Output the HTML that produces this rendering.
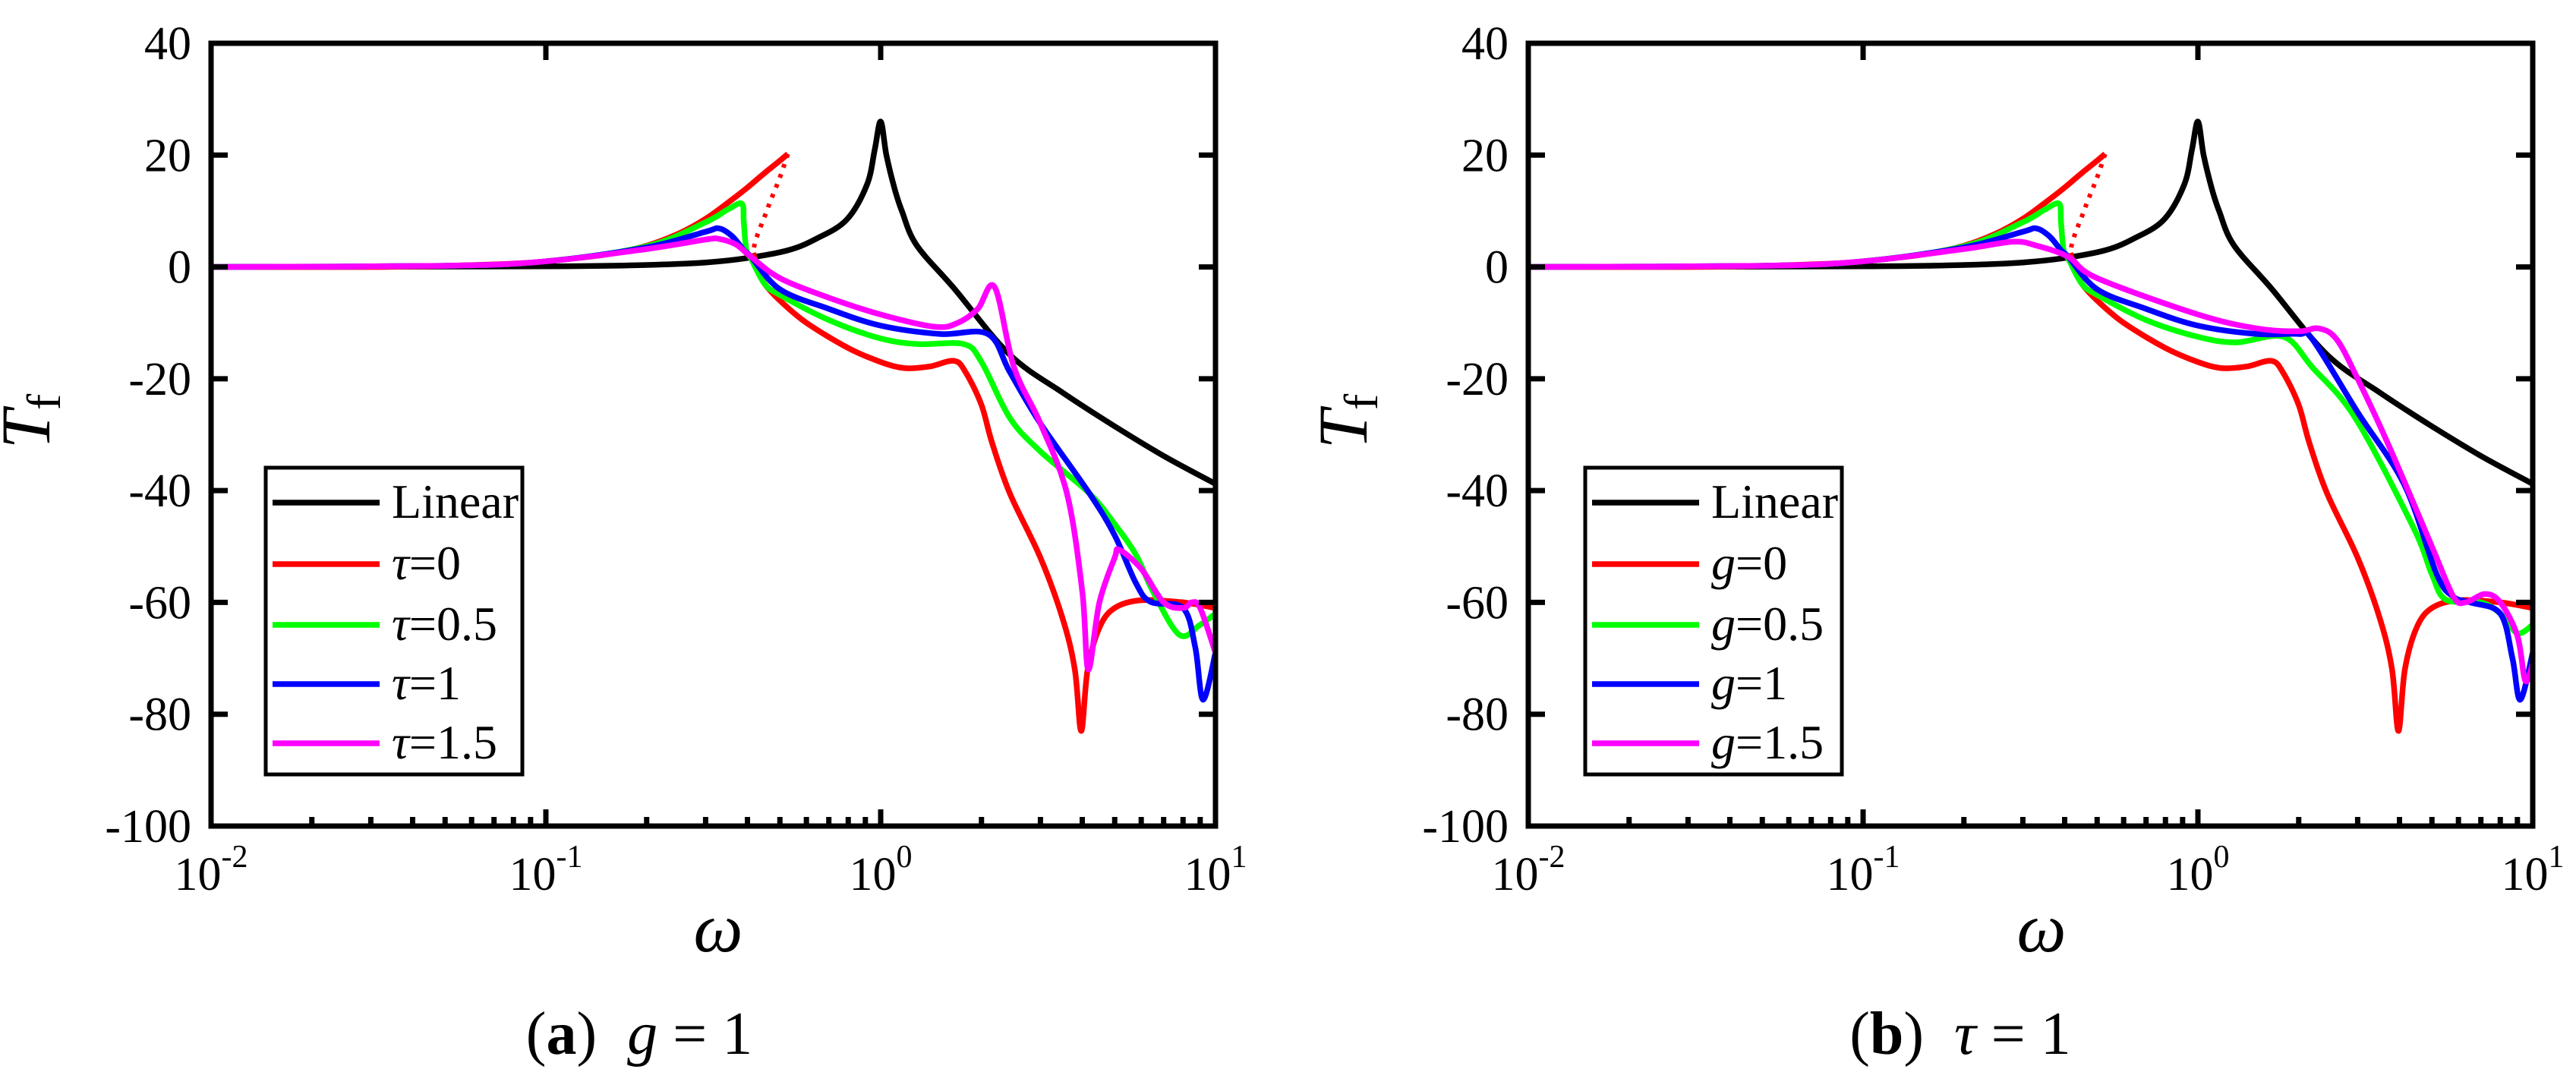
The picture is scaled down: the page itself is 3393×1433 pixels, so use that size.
<!DOCTYPE html>
<html><head><meta charset="utf-8"><style>
html,body{margin:0;padding:0;background:#fff;}
svg{display:block;font-family:"Liberation Serif","DejaVu Serif",serif;}
svg text{font-family:"Liberation Serif","DejaVu Serif",serif;fill:#000;}
</style></head><body>
<svg id="fig" width="3393" height="1433" viewBox="0 0 3393 1433" xmlns="http://www.w3.org/2000/svg" font-family="Liberation Serif, DejaVu Serif, serif"></svg>
<script>
// ---- data ----
const xTickLabels = ["-2","-1","0","1"];
const yTickValues = [40,20,0,-20,-40,-60,-80,-100];
const linW = [0.01,0.1,0.2,0.3,0.4,0.53,0.64,0.79,0.91,0.96,1.0,1.04,1.1,1.157,1.28,1.66,2.43,3.5,5,7,10];
const linT = [0,0.1,0.35,0.8,1.6,3,5,8.4,14.7,21,26,20,14,10,3.9,-3.9,-15.7,-22.5,-28.5,-33.8,-38.8];
// red (shared by both panels)
const redUpW = [0.01,0.03,0.05,0.08,0.1,0.15,0.2,0.25,0.3,0.35,0.4,0.45,0.5,0.528];
const redUpT = [0,0,0.2,0.6,1,2.2,3.8,6,8.6,11.5,14.2,16.8,19,20.2];
const redDotW = [0.528,0.5,0.47,0.45,0.43,0.42,0.416];
const redDotT = [20.2,16,12,9,6,4,2.5];
const redLoW = [0.416,0.43,0.45,0.5,0.6,0.8,1.0,1.18,1.4,1.66,1.8,2.0,2.15,2.43,3,3.5,3.8,3.97,4.15,4.5,5,6,8,10];
const redLoT = [2.5,-0.5,-3,-6,-10,-14.5,-17,-18.1,-17.8,-16.8,-19,-24.7,-31.4,-40.5,-52,-63,-72,-83,-72,-64.5,-61,-59.6,-60,-61];
// panel a (g=1)
const aGreenW = [0.01,0.05,0.1,0.2,0.3,0.35,0.385,0.39,0.397,0.41,0.45,0.5,0.7,1,1.3,1.77,2.0,2.43,3,4.2,5,5.8,6.5,7.8,9,10];
const aGreenT = [0,0.2,1,3.7,8,10.3,11.3,8,3,1.5,-3,-5,-9.5,-12.8,-13.8,-13.8,-17,-27,-33,-40.5,-46,-51.6,-58,-65.8,-64,-62];
const aBlueW = [0.01,0.05,0.1,0.2,0.3,0.329,0.36,0.39,0.41,0.5,0.7,1,1.5,2.09,2.43,3,4.2,5,5.78,6.4,8,8.7,9.18,10];
const aBlueT = [0,0.2,1,3.5,6.3,6.9,5.5,3,1.8,-4,-7.5,-10.5,-12,-12,-18.8,-28,-40.5,-48,-56.5,-59.9,-61,-68,-77.4,-69];
const aMagW = [0.01,0.05,0.1,0.2,0.3,0.33,0.37,0.41,0.5,0.7,1,1.45,1.7,1.95,2.19,2.5,3.0,3.6,4.0,4.17,4.5,5,5.16,6,7,8,8.5,9,10];
const aMagT = [0,0.2,1,3.2,4.9,5,4,1.8,-2,-5.5,-8.5,-10.7,-10,-7.5,-3.6,-17.9,-28,-40.5,-58,-72,-60,-52,-50.6,-54,-60,-61,-60,-61,-69];
// panel b (tau=1)
const bGreenW = [0.01,0.05,0.1,0.2,0.3,0.35,0.385,0.39,0.397,0.41,0.45,0.5,0.7,1,1.3,1.8,2.2,2.95,4.4,5,5.5,7,8,9,10];
const bGreenT = [0,0.2,1,3.7,8,10.3,11.3,8,3,1.5,-3,-5,-9.5,-12.5,-13.5,-12.5,-18,-27,-46.6,-55,-59.5,-60,-62,-65.5,-64];
const bBlueW = [0.01,0.05,0.1,0.2,0.3,0.329,0.36,0.39,0.41,0.5,0.7,1,1.5,2,2.2,3,4.14,5.17,5.8,6.5,8,8.7,9.18,10];
const bBlueT = [0,0.2,1,3.5,6.3,6.9,5.5,3,1.8,-4,-7.5,-10.5,-12,-12,-13,-26,-39,-55,-59,-60,-62,-70,-77.4,-69];
const bMagW = [0.01,0.05,0.1,0.2,0.28,0.33,0.41,0.5,1,1.5,2,2.3,2.6,3,3.7,5,5.8,6.3,7.2,8,9,9.5,10];
const bMagT = [0,0.2,1,3.2,4.5,3.8,1.8,-2,-8.5,-11,-11.5,-11,-13,-20,-31.7,-50,-59,-60,-58.5,-60,-66,-74,-71];

const NS="http://www.w3.org/2000/svg";
const FF="Liberation Serif, DejaVu Serif, serif";
const svg=document.getElementById('fig');
function mk(tag,attrs,parent){const e=document.createElementNS(NS,tag);for(const k in attrs)e.setAttribute(k,attrs[k]);if(tag==='text')e.setAttribute('font-family',FF);(parent||svg).appendChild(e);return e;}
function smooth(P){
  let d='M'+P[0][0].toFixed(1)+','+P[0][1].toFixed(1);
  const k=0.5/3;
  for(let i=0;i<P.length-1;i++){
    const p0=P[i-1]||P[i],p1=P[i],p2=P[i+1],p3=P[i+2]||P[i+1];
    const c1=[p1[0]+(p2[0]-p0[0])*k,p1[1]+(p2[1]-p0[1])*k];
    const c2=[p2[0]-(p3[0]-p1[0])*k,p2[1]-(p3[1]-p1[1])*k];
    d+='C'+c1[0].toFixed(1)+','+c1[1].toFixed(1)+' '+c2[0].toFixed(1)+','+c2[1].toFixed(1)+' '+p2[0].toFixed(1)+','+p2[1].toFixed(1);
  }
  return d;
}

function panel(x0,legendX,labels,series,caption,capX,tfX,omegaX,pname){
  const g=mk('g',{});
  
  
  const W=1323,y0=57,y1=1088;
  const xs=w=>x0+(Math.log10(w)+2)/3*W;
  const ys=t=>y0+(40-t)/140*(y1-y0);
  series.forEach(s=>{
    const P=s.w.map((w,i)=>[xs(w),ys(s.t[i])]);
    const pl=mk('path',{d:smooth(P),fill:'none',stroke:s.c,'stroke-width':s.dot?6:7.5,'stroke-linejoin':'round','stroke-dasharray':s.dot?'5 9':'none'},g);
    
    
  });
  const box=mk('rect',{x:x0,y:y0,width:W,height:y1-y0,fill:'none',stroke:'#000','stroke-width':7},g);
  
  
  yTickValues.forEach(v=>{
    const y=ys(v);
    mk('line',{x1:x0,x2:x0+22,y1:y,y2:y,stroke:'#000','stroke-width':7},g);
    mk('line',{x1:x0+W,x2:x0+W-22,y1:y,y2:y,stroke:'#000','stroke-width':7},g);
    const t=mk('text',{x:x0-26,y:y+21,'font-size':62,'text-anchor':'end'},g);
    t.textContent=String(v);
    
    
  });
  xTickLabels.forEach((lab,i)=>{
    const x=x0+i*W/3;
    mk('line',{x1:x,x2:x,y1:y1,y2:y1-22,stroke:'#000','stroke-width':7},g);
    mk('line',{x1:x,x2:x,y1:y0,y2:y0+22,stroke:'#000','stroke-width':7},g);
    if(i<3){for(let m=2;m<=9;m++){const xm=x+Math.log10(m)*W/3;mk('line',{x1:xm,x2:xm,y1:y1,y2:y1-12,stroke:'#000','stroke-width':7},g);}}
    const t=mk('text',{x:x,y:1172,'font-size':62,'text-anchor':'middle'},g);
    
    
    const a=mk('tspan',{},t);a.textContent='10';
    const b=mk('tspan',{'font-size':42,dy:-30},t);b.textContent=lab;
  });
  const om=mk('text',{x:omegaX,y:1253,'font-size':92,'font-style':'italic','text-anchor':'middle'},g);
  om.textContent='ω';
  
  
  const tf=mk('text',{transform:`translate(${tfX},555) rotate(-90)`,'font-size':92,'font-style':'italic','text-anchor':'middle'},g);
  
  
  const t1=mk('tspan',{},tf);t1.textContent='T';
  const t2=mk('tspan',{'font-size':64,'font-style':'normal',dy:14},tf);t2.textContent='f';
  const lg=mk('g',{},g);
  
  
  mk('rect',{x:legendX,y:616,width:338,height:404,fill:'#fff',stroke:'#000','stroke-width':5},lg);
  const rows=[660,741,821,899,977];
  labels.forEach((L,i)=>{
    const e=mk('g',{},lg);
    
    
    mk('line',{x1:legendX+9,x2:legendX+150,y1:rows[i]+2,y2:rows[i]+2,stroke:L.c,'stroke-width':7.5},e);
    const t=mk('text',{x:legendX+166,y:rows[i]+22,'font-size':64},e);
    if(L.sym){const s=mk('tspan',{'font-style':'italic'},t);s.textContent=L.sym;const r=mk('tspan',{},t);r.textContent=L.rest;}
    else t.textContent=L.rest;
  });
  const cp=mk('text',{x:capX,y:1388,'font-size':80,'text-anchor':'middle'},g);
  
  
  const c1=mk('tspan',{},cp);c1.textContent='(';
  const c2=mk('tspan',{'font-weight':'bold'},cp);c2.textContent=caption[0];
  const c3=mk('tspan',{},cp);c3.textContent=')\u2002';
  const c4=mk('tspan',{'font-style':'italic'},cp);c4.textContent=caption[1];
  const c5=mk('tspan',{},cp);c5.textContent=' = 1';
}

const redSet=[
 {w:redUpW,t:redUpT,c:'#ff0000',name:'series-red-upper'},
 {w:redDotW,t:redDotT,c:'#ff0000',dot:true,name:'series-red-unstable'},
 {w:redLoW,t:redLoT,c:'#ff0000',name:'series-red-lower'}];
panel(278,350,
 [{c:'#000',rest:'Linear'},{c:'#ff0000',sym:'τ',rest:'=0'},{c:'#00ff00',sym:'τ',rest:'=0.5'},{c:'#0000ff',sym:'τ',rest:'=1'},{c:'#ff00ff',sym:'τ',rest:'=1.5'}],
 [{w:linW,t:linT,c:'#000',name:'series-linear'}].concat(redSet,[
  {w:aGreenW,t:aGreenT,c:'#00ff00',name:'series-tau-0.5'},
  {w:aBlueW,t:aBlueT,c:'#0000ff',name:'series-tau-1'},
  {w:aMagW,t:aMagT,c:'#ff00ff',name:'series-tau-1.5'}]),
 ['a','g'],842,65,946,'panel-a');
panel(2013,2088,
 [{c:'#000',rest:'Linear'},{c:'#ff0000',sym:'g',rest:'=0'},{c:'#00ff00',sym:'g',rest:'=0.5'},{c:'#0000ff',sym:'g',rest:'=1'},{c:'#ff00ff',sym:'g',rest:'=1.5'}],
 [{w:linW,t:linT,c:'#000',name:'series-linear'}].concat(redSet,[
  {w:bGreenW,t:bGreenT,c:'#00ff00',name:'series-g-0.5'},
  {w:bBlueW,t:bBlueT,c:'#0000ff',name:'series-g-1'},
  {w:bMagW,t:bMagT,c:'#ff00ff',name:'series-g-1.5'}]),
 ['b','τ'],2582,1800,2689,'panel-b');
</script>
</body></html>
